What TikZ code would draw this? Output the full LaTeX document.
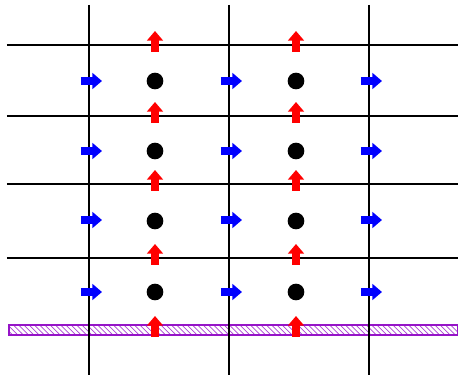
\documentclass[tikz,border=0pt]{standalone}
\usepackage{xcolor}
\usepackage{tikz}
\usetikzlibrary{arrows.meta, patterns}

\definecolor{bandviolet}{RGB}{150,20,200}

\begin{document}
\begin{tikzpicture}[
  x=0.02cm, y=-0.02cm,
  gridline/.style={line width=1.7pt, black},
  dot/.style={circle, fill=black, inner sep=0pt, minimum size=9.5pt},
  flux/.style={line width=4.5pt, -{Triangle[width=9pt, length=5.5pt]}},
  uflux/.style={flux, draw=blue},
  vflux/.style={flux, draw=red},
  band/.style={draw=bandviolet, line width=1.5pt, pattern=north west lines, pattern color=bandviolet!80},
]
\useasboundingbox (0,0) rectangle (458,375);

% wall
\draw[band] (9,325) rectangle (458,335);

% grid
\foreach \y in {45,116,184,258}
  \draw[gridline] (7,\y) -- (458,\y);
\foreach \x in {89,229,369}
  \draw[gridline] (\x,5) -- (\x,375);

% cell centres
\foreach \y [count=\j] in {81,151,221,292} {
  \node[dot] (p1\j) at (155,\y) {};
  \node[dot] (p2\j) at (296,\y) {};
}

% u on vertical faces
\foreach \y in {81,151,220,292}
  \foreach \x in {89,229,369}
    \draw[uflux] (\x-8,\y) -- (\x+13,\y);

% v on horizontal faces
\foreach \y in {45,116,184,258,330}
  \foreach \x in {155,296}
    \draw[vflux] (\x,\y+7) -- (\x,\y-14);

\end{tikzpicture}
\end{document}
